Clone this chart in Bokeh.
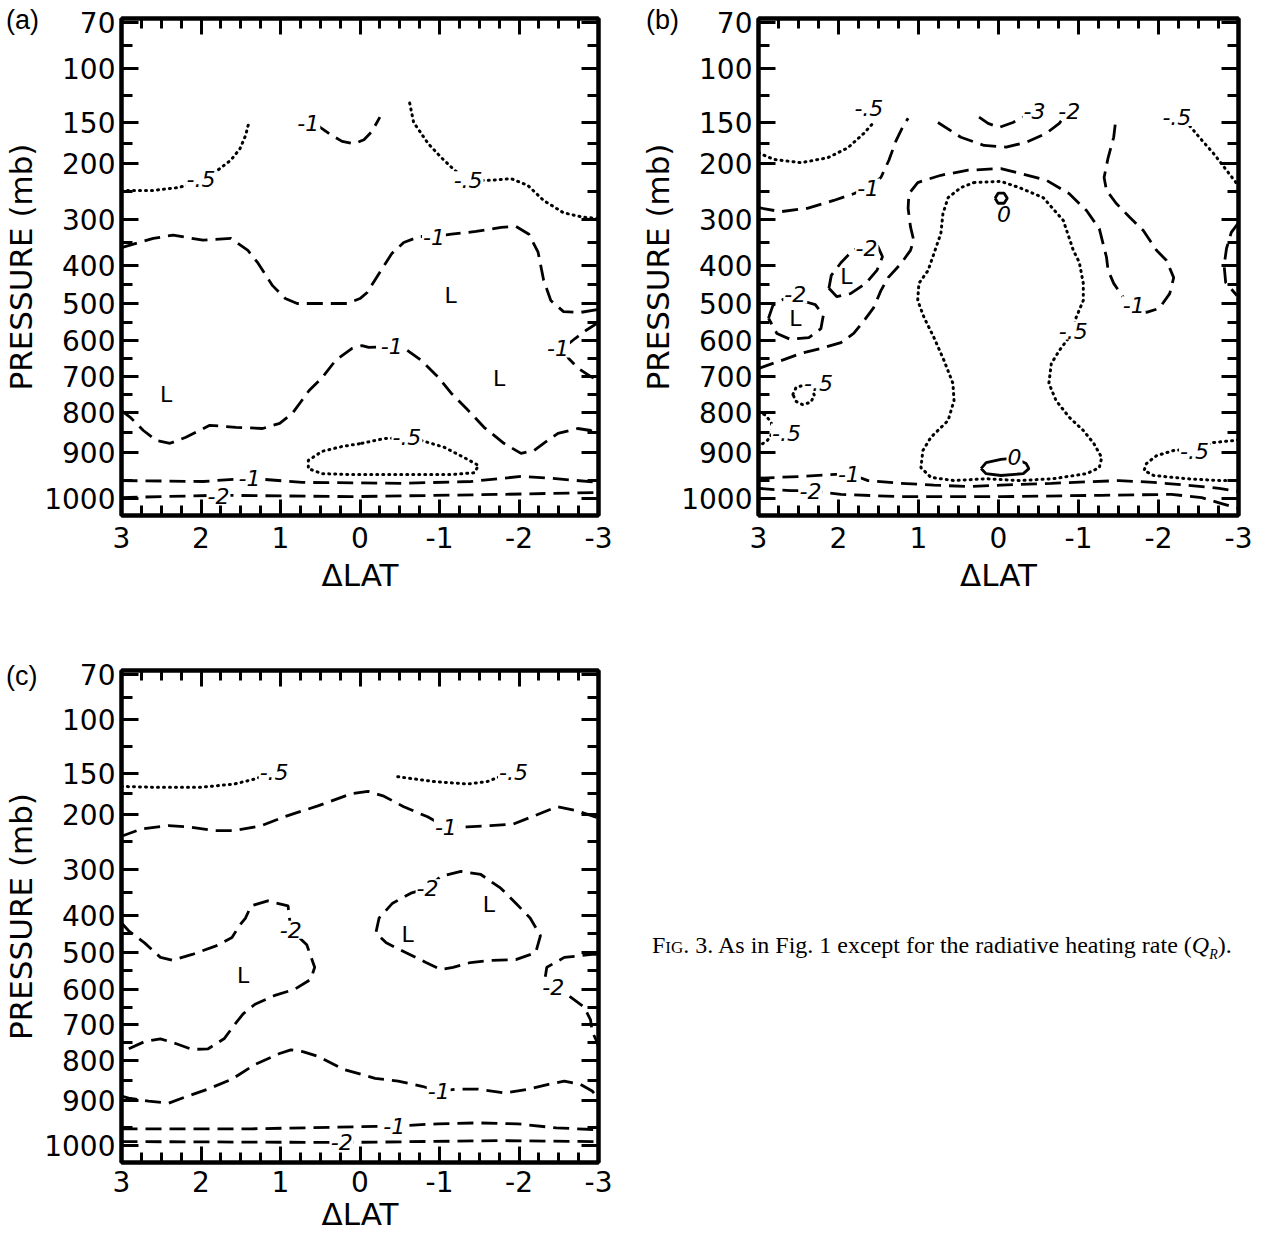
import numpy as np
from bokeh.plotting import figure
from bokeh.models import Range1d, FixedTicker, LinearAxis, Div
from bokeh.layouts import row, column
from bokeh.core.properties import value
from bokeh.embed import file_html
from bokeh.resources import INLINE

# ---- vertical scale of the original chart (pressure level -> relative height) ----
P_NODES = [67.6, 70, 100, 150, 200, 300, 400, 500, 600, 700, 800, 900, 1000, 1037]
H_NODES = [0, 4, 50, 104, 145, 201, 247, 285, 322, 358, 394, 434, 480, 497]
P_MAJOR = [70, 100, 150, 200, 300, 400, 500, 600, 700, 800, 900, 1000]
P_MINOR = [85, 125, 175, 250, 350, 450, 550, 650, 750, 850, 960]
LAT_TICKS = [3, 2, 1, 0, -1, -2, -3]
LAT_MINOR = [3 - 0.25 * i for i in range(25)]

# ================= panel (a) =================
a_m05_ul_lat = [3.0, 2.6, 2.29, 1.975, 1.79, 1.625, 1.51, 1.44, 1.40]
a_m05_ul_p = [248, 248, 243, 232, 212, 196, 182, 166, 151]
a_m1_top_lat = [0.55, 0.5, 0.35, 0.225, 0.075, -0.05, -0.15, -0.25]
a_m1_top_p = [152, 156, 166, 173, 176, 171, 161, 145]
a_m05_tr_lat = [-0.625, -0.675, -0.86, -1.025, -1.19, -1.36, -1.65, -1.9, -2.11, -2.31, -2.56, -2.81, -3.0]
a_m05_tr_p = [132, 150, 176, 193, 212, 230, 230, 227, 239, 266, 288, 296, 298]
a_m1_mid_lat = [3.0, 2.6, 2.35, 1.975, 1.625, 1.41, 1.29, 1.1, 0.94, 0.79, 0.475, 0.16, 0.0, -0.09,
                -0.24, -0.4, -0.55, -0.75, -0.93, -1.15, -1.46, -1.775, -1.96, -2.125, -2.24, -2.31,
                -2.4, -2.56, -2.775, -3.0]
a_m1_mid_p = [361, 341, 334, 345, 341, 367, 393, 453, 487, 500, 500, 500, 487, 471, 421, 374, 350,
              337, 337, 332, 326, 317, 315, 332, 371, 439, 492, 522, 524, 516]
a_m1_low_lat = [3.0, 2.89, 2.725, 2.56, 2.39, 2.19, 1.89, 1.56, 1.225, 1.01, 0.85, 0.64, 0.475, 0.31,
                0.1, -0.025, -0.11, -0.4, -0.56, -0.775, -0.99, -1.15, -1.36, -1.56, -1.81, -2.025,
                -2.19, -2.31, -2.49, -2.74, -2.9, -3.0]
a_m1_low_p = [795, 812, 845, 870, 877, 862, 832, 837, 840, 827, 802, 739, 703, 656, 622, 614, 619,
              617, 622, 656, 703, 747, 794, 837, 877, 902, 895, 877, 852, 840, 845, 852]
a_m1_rt_lat = [-3.0, -2.84, -2.71, -2.55, -2.625, -2.75, -2.9, -3.0]
a_m1_rt_p = [551, 573, 594, 622, 650, 678, 700, 711]
a_m05_low_lat = [-0.025, -0.31, -0.59, -0.775, -1.06, -1.31, -1.49, -1.44, -1.15, -0.525, 0.1, 0.475,
                 0.65, 0.65, 0.475, 0.225, -0.025]
a_m05_low_p = [877, 865, 862, 870, 887, 911, 928, 944, 948, 948, 948, 946, 935, 917, 897, 885, 877]
a_m1_bot_lat = [3.0, 1.975, 1.39, 0.725, -0.525, -1.4, -2.025, -2.4, -3.0]
a_m1_bot_p = [961, 963, 956, 965, 967, 963, 952, 956, 965]
a_m2_bot_lat = [3.0, 1.78, 0.1, -1.775, -3.0]
a_m2_bot_p = [998, 993, 996, 991, 987]
a_lab_lat = [2.0, 0.65, -1.36, -0.93, -0.4, -2.49, -0.59, 1.39, 1.78]
a_lab_p = [228, 150, 230, 337, 614, 622, 862, 956, 995]
a_lab_txt = ["-.5", "-1", "-.5", "-1", "-1", "-1", "-.5", "-1", "-2"]
a_low_lat = [2.44, -1.14, -1.75]
a_low_p = [750, 479, 705]

# ================= panel (b) =================
b_m05_ul_lat = [3.0, 2.81, 2.47, 2.135, 1.885, 1.68, 1.57]
b_m05_ul_p = [187, 195, 199, 193, 181, 163, 151]
b_m1_ul_lat = [3.0, 2.72, 2.39, 2.06, 1.81, 1.63, 1.47, 1.37, 1.28, 1.2, 1.13]
b_m1_ul_p = [279, 286, 280, 266, 254, 243, 225, 196, 172, 156, 146]
b_m2_top_lat = [0.757, 0.47, 0.18, -0.095, -0.35, -0.6, -0.76, -0.885]
b_m2_top_p = [150, 168, 178, 180, 174, 163, 151, 139]
b_m3_lat = [0.243, 0.13, -0.007, -0.18, -0.31, -0.45]
b_m3_p = [145, 151, 156, 150, 145, 139]
b_m05_tr_lat = [-2.33, -2.39, -2.51, -2.69, -2.85, -3.0]
b_m05_tr_p = [150, 154, 168, 188, 212, 240]
b_m1_big_lat = [3.0, 2.89, 2.72, 2.47, 2.22, 1.97, 1.81, 1.68, 1.56, 1.47, 1.38, 1.22, 1.1, 1.06, 1.1,
                1.13, 1.12, 1.01, 0.72, 0.38, -0.03, -0.22, -0.6, -0.885, -1.1, -1.26, -1.35, -1.37,
                -1.44, -1.56, -1.69, -1.85, -2.01, -2.14, -2.19, -2.1, -1.975, -1.81, -1.64, -1.47,
                -1.35, -1.32, -1.37, -1.44, -1.47]
b_m1_big_p = [678, 669, 656, 636, 622, 606, 581, 546, 511, 466, 432, 396, 367, 345, 316, 280, 254,
              234, 221, 212, 209, 216, 230, 254, 284, 320, 382, 413, 447, 484, 505, 524, 513, 474,
              432, 389, 367, 324, 296, 271, 248, 225, 193, 168, 145]
b_m2_ell_lat = [2.12, 2.09, 1.97, 1.82, 1.66, 1.51, 1.45, 1.52, 1.66, 1.85, 2.02, 2.12]
b_m2_ell_p = [460, 426, 394, 367, 354, 358, 381, 413, 447, 474, 482, 460]
b_m2_circ_lat = [2.875, 2.82, 2.69, 2.47, 2.29, 2.19, 2.22, 2.37, 2.6, 2.77, 2.875]
b_m2_circ_p = [540, 505, 489, 492, 503, 532, 568, 592, 597, 581, 540]
b_m05_dot_lat = [2.57, 2.53, 2.44, 2.34, 2.3, 2.35, 2.45, 2.53, 2.57]
b_m05_dot_p = [750, 730, 725, 733, 753, 772, 778, 769, 750]
b_m05_edge_lat = [3.0, 2.91, 2.84, 2.82, 2.89, 3.0]
b_m05_edge_p = [797, 807, 825, 850, 870, 885]
b_m05_big_lat = [0.306, -0.03, -0.26, -0.56, -0.81, -0.935, -1.01, -1.06, -1.06, -0.97, -0.935, -0.87,
                 -0.76, -0.66, -0.63, -0.72, -0.885, -1.06, -1.19, -1.29, -1.26, -1.1, -0.68, -0.26,
                 0.155, 0.556, 0.845, 0.97, 0.945, 0.845, 0.63, 0.556, 0.57, 0.68, 0.807, 0.93, 1.01,
                 0.995, 0.88, 0.807, 0.72, 0.695, 0.63, 0.47, 0.306]
b_m05_big_p = [234, 232, 243, 261, 302, 367, 393, 447, 492, 538, 573, 595, 628, 664, 719, 767, 812,
               845, 877, 911, 933, 946, 957, 961, 957, 961, 954, 933, 895, 862, 820, 767, 719, 656,
               592, 538, 492, 447, 413, 374, 330, 290, 261, 243, 234]
b_0_top_lat = [0.043, 0.005, -0.07, -0.11, -0.07, 0.005, 0.043]
b_0_top_p = [262, 253, 253, 262, 271, 271, 262]
b_0_bot_lat = [0.218, 0.155, -0.03, -0.2, -0.346, -0.38, -0.31, -0.03, 0.155, 0.218]
b_0_bot_p = [935, 922, 915, 912, 924, 935, 946, 950, 946, 935]
b_m05_br_lat = [-3.0, -2.95, -2.69, -2.45, -2.19, -1.975, -1.85, -1.82, -1.94, -2.35, -2.76, -3.0]
b_m05_br_p = [868, 870, 875, 890, 895, 907, 924, 939, 950, 957, 961, 961]
b_m1_bot_lat = [3.0, 2.47, 1.87, 1.63, 1.22, 0.807, 0.38, -0.03, -0.66, -1.51, -1.94, -2.35, -2.76, -3.0]
b_m1_bot_p = [956, 952, 946, 961, 967, 971, 974, 971, 967, 961, 965, 971, 978, 985]
b_m2_bot_lat = [3.0, 2.6, 2.35, 1.97, 1.22, -0.03, -1.29, -2.16, -2.54, -2.79, -3.0]
b_m2_bot_p = [978, 983, 983, 991, 996, 996, 993, 991, 998, 1011, 1022]
b_m2_re_lat = [-3.0, -2.91, -2.85, -2.82, -2.84, -2.98]
b_m2_re_p = [307, 328, 363, 400, 445, 479]
b_lab_lat = [1.62, 1.63, -0.45, -0.885, -2.23, 1.65, 2.54, 2.25, 2.65, -0.935, -0.2, -0.07,
             -2.45, -1.69, 1.87, 2.35]
b_lab_p = [137, 243, 139, 139, 145, 361, 476, 717, 850, 573, 909, 291, 895, 505, 946, 983]
b_lab_txt = ["-.5", "-1", "-3", "-2", "-.5", "-2", "-2", "-.5", "-.5", "-.5", "0", "0",
             "-.5", "-1", "-1", "-2"]
b_low_lat = [1.9, 2.54]
b_low_p = [429, 540]

# ================= panel (c) =================
c_m05_l_lat = [3.0, 2.62, 2.0, 1.58, 1.33, 1.08]
c_m05_l_p = [166, 167, 167, 163, 157, 149]
c_m05_r_lat = [-0.475, -0.93, -1.35, -1.6, -1.73, -1.93]
c_m05_r_p = [154, 160, 163, 160, 155, 149]
c_m1_top_lat = [3.0, 2.75, 2.41, 2.16, 1.83, 1.58, 1.24, 0.955, 0.53, 0.11, -0.1, -0.3, -0.55, -0.85,
                -1.08, -1.35, -1.64, -1.93, -2.18, -2.48, -2.73, -3.0]
c_m1_top_p = [240, 227, 221, 223, 230, 230, 221, 205, 190, 175, 172, 178, 191, 205, 223, 223, 221,
              218, 204, 191, 196, 207]
c_m2_loop_lat = [-0.85, -1.015, -1.27, -1.52, -1.77, -1.96, -2.14, -2.27, -2.21, -1.96, -1.64, -1.39,
                 -1.17, -1.015, -0.83, -0.58, -0.33, -0.2, -0.24, -0.41, -0.64, -0.85]
c_m2_loop_p = [341, 315, 304, 311, 341, 374, 408, 455, 500, 519, 521, 527, 540, 546, 527, 500, 474,
               447, 408, 374, 352, 341]
c_m2_left_lat = [3.0, 2.91, 2.71, 2.51, 2.36, 2.11, 1.81, 1.61, 1.52, 1.44, 1.37, 1.16, 0.905, 0.87,
                 0.67, 0.57, 0.62, 0.82, 1.07, 1.32, 1.47, 1.57, 1.71, 1.91, 2.11, 2.31, 2.51, 2.71,
                 2.91, 3.0]
c_m2_left_p = [421, 442, 474, 513, 521, 505, 482, 460, 429, 408, 380, 369, 380, 439, 479, 540, 573,
               600, 617, 642, 669, 697, 739, 767, 769, 753, 739, 747, 767, 775]
c_m2_right_lat = [-3.0, -2.92, -2.57, -2.35, -2.33, -2.43, -2.62, -2.82, -2.9, -2.92, -2.97, -3.0]
c_m2_right_p = [505, 505, 513, 540, 567, 594, 617, 650, 686, 719, 742, 761]
c_m1_low_lat = [3.0, 2.91, 2.66, 2.41, 2.21, 1.91, 1.61, 1.32, 1.02, 0.87, 0.72, 0.52, 0.21, -0.19,
                -0.48, -0.78, -0.99, -1.23, -1.48, -1.83, -2.13, -2.37, -2.57, -2.77, -2.92, -3.0]
c_m1_low_p = [890, 895, 902, 907, 893, 872, 847, 810, 781, 770, 775, 789, 822, 845, 852, 865, 877,
              872, 872, 882, 872, 860, 852, 860, 877, 895]
c_m1_bot_lat = [3.0, 1.37, -0.43, -0.98, -1.48, -1.98, -2.47, -3.0]
c_m1_bot_p = [963, 963, 957, 952, 950, 952, 961, 965]
c_m2_bot_lat = [3.0, 0.23, -1.77, -3.0]
c_m2_bot_p = [991, 993, 989, 991]
c_lab_lat = [1.08, -1.93, -1.08, -0.85, 0.87, -2.43, -0.99, -0.43, 0.23]
c_lab_p = [149, 149, 223, 341, 439, 594, 877, 957, 993]
c_lab_txt = ["-.5", "-.5", "-1", "-2", "-2", "-2", "-1", "-1", "-2"]
c_low_lat = [-1.62, -0.6, 1.47]
c_low_p = [378, 453, 562]

PANEL_TAGS = ["(a)", "(b)", "(c)"]
CAPTION = ('<span style="font-variant: small-caps;">Fig.</span> 3. As in Fig. 1 except for the '
           'radiative heating rate (<i>Q<sub style="font-size:14px;">R</sub></i>).')


def hgt(p):
    return [float(v) for v in np.interp(p, P_NODES, H_NODES)]


DASH = dict(line_dash="16 8", line_width=2.8, line_cap="butt")
DOT = dict(line_dash="1 5", line_width=3, line_cap="round")
SOLID = dict(line_width=2.8)


def make_panel(contours, lab, lows, width, height, bl, br, bt, bb, xstand, xlabstand):
    p = figure(width=width, height=height, x_range=Range1d(3, -3),
               y_range=Range1d(H_NODES[-1], 0), output_backend="svg", toolbar_location=None,
               min_border_left=bl, min_border_right=br, min_border_top=bt, min_border_bottom=bb,
               background_fill_color="white", border_fill_color="white", border_fill_alpha=0)
    p.xgrid.visible = False
    p.ygrid.visible = False
    p.outline_line_color = "black"
    p.outline_line_width = 4

    xt = FixedTicker(ticks=LAT_TICKS, minor_ticks=LAT_MINOR)
    maj = hgt(P_MAJOR)
    yt = FixedTicker(ticks=maj, minor_ticks=hgt(P_MINOR))

    common = dict(axis_line_width=4, axis_line_color="black", major_tick_out=0, minor_tick_out=0,
                  major_tick_line_width=3, minor_tick_line_width=3,
                  major_tick_line_color="black", minor_tick_line_color="black")

    xa = p.xaxis[0]
    xa.ticker = xt
    xa.update(**common)
    xa.major_tick_in = 16
    xa.minor_tick_in = 10
    xa.major_label_overrides = {t: str(t) for t in LAT_TICKS}
    xa.major_label_text_font = "DejaVu Sans"
    xa.major_label_text_font_size = "28px"
    xa.major_label_text_color = "black"
    xa.major_label_standoff = xstand
    xa.axis_label = "ΔLAT"
    xa.axis_label_text_font = "DejaVu Sans"
    xa.axis_label_text_font_size = "31px"
    xa.axis_label_text_font_style = "normal"
    xa.axis_label_text_color = "black"
    xa.axis_label_standoff = xlabstand

    ya = p.yaxis[0]
    ya.ticker = yt
    ya.update(**common)
    ya.major_tick_in = 17
    ya.minor_tick_in = 11
    ya.major_label_overrides = {m: str(pp) for m, pp in zip(maj, P_MAJOR)}
    ya.major_label_text_font = "DejaVu Sans"
    ya.major_label_text_font_size = "28px"
    ya.major_label_text_color = "black"
    ya.major_label_standoff = 6
    ya.axis_label = "PRESSURE (mb)"
    ya.axis_label_text_font = "DejaVu Sans"
    ya.axis_label_text_font_size = "31px"
    ya.axis_label_text_font_style = "normal"
    ya.axis_label_text_color = "black"
    ya.axis_label_standoff = 2

    top = LinearAxis(ticker=xt, major_label_text_color=None, major_label_text_font_size="10px",
                     major_label_standoff=0, major_tick_in=16, minor_tick_in=10, **common)
    p.add_layout(top, "above")
    right = LinearAxis(ticker=yt, major_label_text_color=None, major_label_text_font_size="10px",
                       major_label_standoff=0, major_tick_in=17, minor_tick_in=11, **common)
    p.add_layout(right, "right")

    for lat, pr, style in contours:
        p.line(lat, hgt(pr), line_color="black", **style)

    p.text(x=lab[0], y=hgt(lab[1]), text=lab[2], text_font=value("DejaVu Sans"),
           text_font_style="italic", text_font_size="22px", text_align="center",
           text_baseline="middle", text_color="black", background_fill_color="white",
           padding=1)
    p.text(x=lows[0], y=hgt(lows[1]), text=["L"] * len(lows[0]), text_font=value("DejaVu Sans"),
           text_font_size="22px", text_align="center", text_baseline="middle", text_color="black")
    return p


def tag_div(text, top, fig_h, left):
    # small panel tag laid over the figure's upper-left corner (net zero height in the column)
    html = ('<span style="font-family: \'Liberation Sans\'; font-size: 27px; color: black; '
            'line-height: 28px;">%s</span>' % text)
    return Div(text=html, width=46, height=28, margin=(-(fig_h - top), 0, fig_h - top - 28, left),
               styles={"font-size": "27px", "line-height": "28px"})


pa = make_panel([(a_m05_ul_lat, a_m05_ul_p, DOT), (a_m1_top_lat, a_m1_top_p, DASH),
                 (a_m05_tr_lat, a_m05_tr_p, DOT), (a_m1_mid_lat, a_m1_mid_p, DASH),
                 (a_m1_low_lat, a_m1_low_p, DASH), (a_m1_rt_lat, a_m1_rt_p, DASH),
                 (a_m05_low_lat, a_m05_low_p, DOT), (a_m1_bot_lat, a_m1_bot_p, DASH),
                 (a_m2_bot_lat, a_m2_bot_p, DASH)],
                (a_lab_lat, a_lab_p, a_lab_txt), (a_low_lat, a_low_p),
                628, 640, 118, 30, 18, 125, 11, 6)

pb = make_panel([(b_m05_ul_lat, b_m05_ul_p, DOT), (b_m1_ul_lat, b_m1_ul_p, DASH),
                 (b_m2_top_lat, b_m2_top_p, DASH), (b_m3_lat, b_m3_p, DASH),
                 (b_m05_tr_lat, b_m05_tr_p, DOT), (b_m1_big_lat, b_m1_big_p, DASH),
                 (b_m2_ell_lat, b_m2_ell_p, DASH), (b_m2_circ_lat, b_m2_circ_p, DASH),
                 (b_m05_dot_lat, b_m05_dot_p, DOT), (b_m05_edge_lat, b_m05_edge_p, DOT),
                 (b_m05_big_lat, b_m05_big_p, DOT), (b_0_top_lat, b_0_top_p, SOLID),
                 (b_0_bot_lat, b_0_bot_p, SOLID), (b_m05_br_lat, b_m05_br_p, DOT),
                 (b_m1_bot_lat, b_m1_bot_p, DASH), (b_m2_bot_lat, b_m2_bot_p, DASH),
                 (b_m2_re_lat, b_m2_re_p, DASH)],
                (b_lab_lat, b_lab_p, b_lab_txt), (b_low_lat, b_low_p),
                632, 640, 130, 22, 18, 125, 11, 6)

pc = make_panel([(c_m05_l_lat, c_m05_l_p, DOT), (c_m05_r_lat, c_m05_r_p, DOT),
                 (c_m1_top_lat, c_m1_top_p, DASH), (c_m2_loop_lat, c_m2_loop_p, DASH),
                 (c_m2_left_lat, c_m2_left_p, DASH), (c_m2_right_lat, c_m2_right_p, DASH),
                 (c_m1_low_lat, c_m1_low_p, DASH), (c_m1_bot_lat, c_m1_bot_p, DASH),
                 (c_m2_bot_lat, c_m2_bot_p, DASH)],
                (c_lab_lat, c_lab_p, c_lab_txt), (c_low_lat, c_low_p),
                628, 594, 118, 30, 30, 67, 8, 1)

tag_a = tag_div(PANEL_TAGS[0], 6, 640, 6)
tag_b = tag_div(PANEL_TAGS[1], 6, 640, 18)
tag_c = tag_div(PANEL_TAGS[2], 22, 594, 6)

cap = Div(text=CAPTION, width=620, height=40, margin=(288, 0, 0, 24),
          styles={"font-family": "Liberation Serif", "font-size": "24px", "color": "black",
                  "white-space": "nowrap"})

layout = row(column(pa, tag_a, pc, tag_c), column(pb, tag_b, cap))
open("out.html", "w").write(file_html(layout, INLINE))
